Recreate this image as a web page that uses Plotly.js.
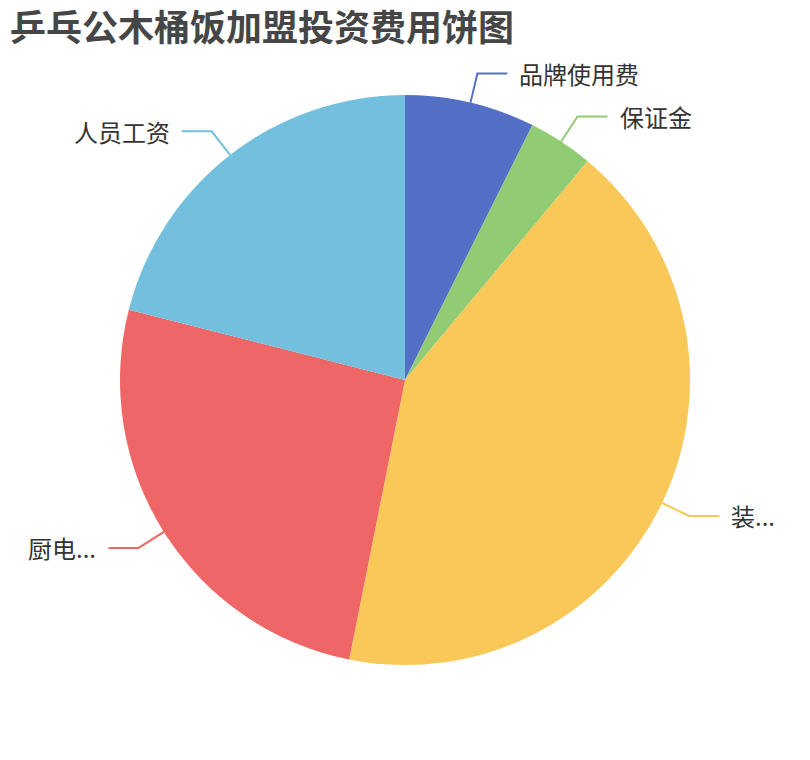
<!DOCTYPE html>
<html>
<head>
<meta charset="utf-8">
<script src="https://cdn.plot.ly/plotly-3.0.1.min.js"></script>
<style>
  html, body { margin: 0; padding: 0; background: #fff; }
  #myPlot { width: 810px; height: 760px; }
</style>
</head>
<body>
<div id="myPlot"></div>
<script>
// Slice names as they are shown on the chart (two are cut off with "...")
const labels = ['品牌使用费', '保证金', '装...', '厨电...', '人员工资'];
// Amounts
const values = [2, 1, 11.4, 7, 5.7];
const colors = ['#5470c6', '#91cc75', '#fac858', '#ee6666', '#73c0de'];

const W = 810, H = 760;
const cx = 405, cy = 380, R = 285;   // pie centre and radius, in pixels
const len1 = 30, len2 = 30, gap = 10; // label line pieces

// pixel -> paper
const px = x => x / W;
const py = y => 1 - y / H;

const total = values.reduce((a, b) => a + b, 0);

// Work out the label lines and text from each slice's middle angle
let shapes = [];
let annotations = [];
let start = 0;
for (let i = 0; i < values.length; i++) {
  const sweep = values[i] / total * 2 * Math.PI;
  const mid = start + sweep / 2;
  start += sweep;
  const s = Math.sin(mid), c = Math.cos(mid);
  const x0 = cx + R * s, y0 = cy - R * c;
  const x1 = cx + (R + len1) * s, y1 = cy - (R + len1) * c;
  const dir = s >= 0 ? 1 : -1;
  const x2 = x1 + dir * len2;
  shapes.push({
    type: 'path', xref: 'paper', yref: 'paper',
    path: `M ${px(x0)},${py(y0)} L ${px(x1)},${py(y1)} L ${px(x2)},${py(y1)}`,
    line: {color: colors[i], width: 2}
  });
  annotations.push({
    xref: 'paper', yref: 'paper',
    x: px(x2 + dir * gap), y: py(y1),
    xanchor: dir > 0 ? 'left' : 'right', yanchor: 'middle',
    text: labels[i], showarrow: false,
    font: {family: 'Noto Sans CJK SC, sans-serif', size: 24, color: '#333'}
  });
}

const data = [{
  type: 'pie',
  labels: labels,
  values: values,
  sort: false,
  direction: 'clockwise',
  rotation: 0,
  textinfo: 'none',
  hoverinfo: 'label+value+percent',
  marker: {colors: colors, line: {width: 0}},
  domain: {x: [px(cx - R), px(cx + R)], y: [py(cy + R), py(cy - R)]},
  showlegend: false
}];

const layout = {
  width: W, height: H,
  margin: {l: 0, r: 0, t: 0, b: 0},
  paper_bgcolor: '#fff',
  title: {
    text: '乒乓公木桶饭加盟投资费用饼图',
    xref: 'paper', yref: 'paper',
    x: px(10), xanchor: 'left',
    y: py(28), yanchor: 'middle',
    font: {family: 'Noto Sans CJK SC, sans-serif', size: 36, weight: 'bold', color: '#464646'}
  },
  shapes: shapes,
  annotations: annotations
};

Plotly.newPlot('myPlot', data, layout, {displayModeBar: false, staticPlot: true});
</script>
</body>
</html>
